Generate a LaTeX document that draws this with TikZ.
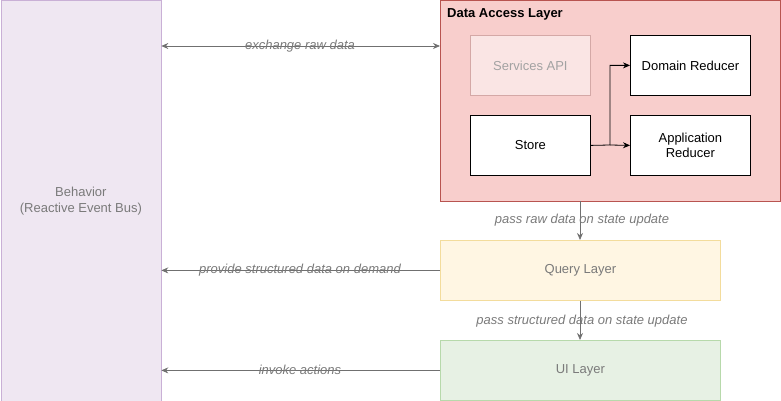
\documentclass[tikz,border=0pt]{standalone}
\usepackage{fontspec}
\setmainfont{Liberation Sans}
\usetikzlibrary{arrows.meta}
\definecolor{bhfill}{HTML}{EFE7F2}
\definecolor{bhdraw}{HTML}{C9B0D6}
\definecolor{dafill}{HTML}{F8CECC}
\definecolor{dadraw}{HTML}{B85450}
\definecolor{svfill}{HTML}{FAE5E4}
\definecolor{svdraw}{HTML}{D4A8A6}
\definecolor{qfill}{HTML}{FFF6E3}
\definecolor{qdraw}{HTML}{F3DC9C}
\definecolor{uifill}{HTML}{E7F1E4}
\definecolor{uidraw}{HTML}{B7D9AB}
\definecolor{fade}{HTML}{7A7A7A}
\definecolor{edge}{HTML}{707070}
\tikzset{
  x=1pt, y=-1pt,
  box/.style={draw, line width=0.8pt, inner sep=0pt, anchor=north west, align=center, font=\fontsize{13}{15.5}\selectfont},
  conn/.style={draw=edge, line width=0.8pt, -{Stealth[length=7pt,width=6pt]}},
  blk/.style={draw=black, line width=0.8pt, -{Stealth[length=7pt,width=6pt]}},
  lbl/.style={font=\fontsize{13}{15}\selectfont\itshape, text=fade, inner sep=1pt}
}
\begin{document}
\begin{tikzpicture}
\useasboundingbox (0,0) rectangle (781,401);
\node[box, fill=bhfill, draw=bhdraw, minimum width=160pt, minimum height=400pt, text=fade] (bh) at (0.5,0.5) {Behavior\\(Reactive Event Bus)};
\node[box, fill=dafill, draw=dadraw, minimum width=340pt, minimum height=200pt] (da) at (440,0.5) {};
\node[anchor=north west, font=\fontsize{13}{15}\selectfont\bfseries, inner sep=0pt] (dalbl) at (447,8.5) {Data Access Layer};
\node[box, fill=svfill, draw=svdraw, minimum width=120pt, minimum height=60pt, text=fade!70] (sv) at (470,35) {Services API};
\node[box, fill=white, draw=black, minimum width=120pt, minimum height=60pt] (dr) at (630,35) {Domain Reducer};
\node[box, fill=white, draw=black, minimum width=120pt, minimum height=60pt] (st) at (470,115) {Store};
\node[box, fill=white, draw=black, minimum width=120pt, minimum height=60pt] (ar) at (630,115) {Application\\Reducer};
\node[box, fill=qfill, draw=qdraw, minimum width=280pt, minimum height=60pt, text=fade] (ql) at (440,240) {Query Layer};
\node[box, fill=uifill, draw=uidraw, minimum width=280pt, minimum height=60pt, text=fade] (ui) at (440,340) {UI Layer};
\coordinate (j) at (610,145);
\draw[blk] (st.east) -- (j) |- (dr.west);
\draw[blk] (j) -- (ar.west);
\draw[conn, {Stealth[length=7pt,width=6pt]}-{Stealth[length=7pt,width=6pt]}] (bh.east |- 0,46) -- (da.west |- 0,46);
\node[lbl] (l1) at (300,46) {exchange raw data};
\draw[conn] (da.south -| 580,0) -- (ql.north -| 580,0);
\node[lbl] (l2) at (582,220) {pass raw data on state update};
\draw[conn] (ql.south -| 580,0) -- (ui.north -| 580,0);
\node[lbl] (l3) at (582,321) {pass structured data on state update};
\draw[conn] (ql.west) -- (bh.east |- ql.west);
\node[lbl] (l4) at (300,270) {provide structured data on demand};
\draw[conn] (ui.west) -- (bh.east |- ui.west);
\node[lbl] (l5) at (300,370) {invoke actions};
\end{tikzpicture}
\end{document}
